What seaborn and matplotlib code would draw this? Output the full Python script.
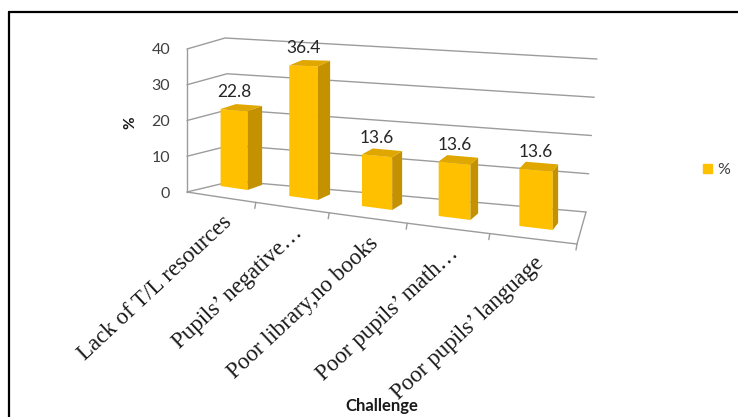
import numpy as np
import matplotlib
matplotlib.use("Agg")
import matplotlib.pyplot as plt
import matplotlib.patches as mpatches
from matplotlib.lines import Line2D
from matplotlib.transforms import Transform
import seaborn as sns

# ---- data -------------------------------------------------------------
categories = [
    "Lack of T/L resources",
    "Pupils\u2019 negative\u2026",
    "Poor library,no books",
    "Poor pupils\u2019 math\u2026",
    "Poor pupils\u2019 language",
]
percent = [22.8, 36.4, 13.6, 13.6, 13.6]
value_ticks = [0, 10, 20, 30, 40]
series_name = "%"
x_title = "Challenge"
y_title = "%"

# ---- canvas / styling ---------------------------------------------------
W, H, DPI = 738, 417, 100
BAR_FRONT = "#FFC000"
BAR_SIDE = "#C49200"
BAR_TOP = "#DFA700"
GRID = "#9C9C9C"
TEXT = "#404040"

sns.set_style("white")
plt.rcParams["font.family"] = ["Lato", "DejaVu Sans"]

# pixel layout of the pseudo-3D box (image pixels, y down)
AX_LEFT = 187          # front-left vertical axis
ZERO_Y = 192           # value 0 on the front-left axis
PX_PER_UNIT = 3.575    # pixels per percentage point on the front-left axis


def px_to_v(py):
    """Image row -> value units of the main axes."""
    return (ZERO_Y - np.asarray(py, float)) / PX_PER_UNIT


def bar_point(x, v, depth):
    """Perspective position of a point on a column (category x, value v, depth 0..1)."""
    x = np.asarray(x, float)
    v = np.asarray(v, float)
    px = 234 + 67.5 * x + 2.0 * x ** 2 + depth * (15 - 2.3 * x)
    py = 188 + 10 * x - v * (3.42 + 0.21 * x) - depth * (5 + 0.5 * x)
    return px, px_to_v(py)


def floor_front(u):
    """Point on the front edge of the floor, u = 0..n along the categories."""
    u = np.asarray(u, float)
    return 187 + 66.5 * u + 2.3 * u ** 2, -10.4 * u / PX_PER_UNIT


def back_left(v):
    return 233 - 0.2 * v, v + 11 / PX_PER_UNIT


def back_right(v):
    return 586 + 0.275 * v, px_to_v(212 - 3.825 * v)


class ColumnPlane(Transform):
    """Maps (category, value) on the column front faces into the perspective view."""
    input_dims = 2
    output_dims = 2
    is_separable = False
    has_inverse = False

    def __init__(self, face_depth=0.0):
        super().__init__()
        self._face_depth = face_depth

    def transform_non_affine(self, values):
        values = np.asarray(values, float)
        px, pv = bar_point(values[:, 0], values[:, 1], self._face_depth)
        return np.column_stack([px, pv])


fig = plt.figure(figsize=(W / DPI, H / DPI), dpi=DPI)
ax = fig.add_axes([AX_LEFT / W, 0.0, (W - AX_LEFT) / W, 1.0])

sns.barplot(x=categories, y=percent, color=BAR_FRONT, saturation=1,
            width=0.4, errorbar=None, linewidth=0, zorder=3, ax=ax)

ax.set_xlim(AX_LEFT, W)
ax.set_ylim(px_to_v(H), px_to_v(0))
ax.autoscale(False)
ax.set_xticks([])
ax.set_xlabel("")

# walls: gridlines on the left wall and back wall
for v in value_ticks:
    blx, blv = back_left(v)
    brx, brv = back_right(v)
    ax.plot([AX_LEFT, blx, brx], [v, blv, brv], color=GRID, lw=1.0,
            zorder=1, solid_capstyle="round", clip_on=False)

# floor outline and category ticks
n = len(categories)
us = np.linspace(0, n, 60)
fx, fv = floor_front(us)
ax.plot(fx, fv, color=GRID, lw=1.0, zorder=1, clip_on=False)
rx0, rv0 = floor_front(n)
brx0, brv0 = back_right(0)
ax.plot([rx0, brx0], [rv0, brv0], color=GRID, lw=1.0, zorder=1, clip_on=False)
for u in range(1, n + 1):
    tx, tv = floor_front(u)
    ax.plot([tx, tx - 1], [tv, tv - 6 / PX_PER_UNIT], color=GRID, lw=1.0,
            zorder=1, clip_on=False)

# columns: front faces from seaborn, plus side and top faces
for p, val in zip(ax.patches, percent):
    x0, w, h = p.get_x(), p.get_width(), p.get_height()
    p.set_transform(ColumnPlane(0.0) + ax.transData)
    p.set_clip_on(False)
    xr = x0 + w
    side = [bar_point(xr, 0, 0), bar_point(xr, h, 0),
            bar_point(xr, h, 1), bar_point(xr, 0, 1)]
    top = [bar_point(x0, h, 0), bar_point(xr, h, 0),
           bar_point(xr, h, 1), bar_point(x0, h, 1)]
    ax.add_patch(mpatches.Polygon([(float(a), float(b)) for a, b in side],
                                  closed=True, facecolor=BAR_SIDE, edgecolor="none",
                                  zorder=3, clip_on=False))
    ax.add_patch(mpatches.Polygon([(float(a), float(b)) for a, b in top],
                                  closed=True, facecolor=BAR_TOP, edgecolor="none",
                                  zorder=3, clip_on=False))
    lx, lv = bar_point(x0 + w / 2, val, 0)
    ax.annotate(f"{val:.1f}", (float(lx), float(lv)), xytext=(0, 13),
                textcoords="offset points", ha="center", va="center",
                fontsize=12.5, color="#262626", zorder=5)

# category labels under the floor
for i, name in enumerate(categories):
    cx, cv = floor_front(i + 0.5)
    ax.text(float(cx) + 8, float(cv) - 22 / PX_PER_UNIT, name, rotation=43,
            rotation_mode="anchor", ha="right", va="center",
            fontsize=16.5, color="#1a1a1a",
            family=["Liberation Serif", "DejaVu Serif"], clip_on=False)

# value axis
for s in ["top", "right", "bottom"]:
    ax.spines[s].set_visible(False)
ax.spines["left"].set_bounds(value_ticks[0], value_ticks[-1])
ax.spines["left"].set_color(GRID)
ax.spines["left"].set_linewidth(1.0)
ax.set_yticks(value_ticks)
ax.tick_params(axis="y", length=3.6, width=1.0, color=GRID, pad=8.5,
               labelsize=11.5, labelcolor=TEXT)
ax.set_ylabel(y_title, fontsize=11, fontweight="bold", color="#1a1a1a")
ax.yaxis.set_label_coords((137 - AX_LEFT) / (W - AX_LEFT), 1 - 123 / H)

fig.text(382 / W, 1 - 406 / H, x_title, ha="center", va="center",
         fontsize=12, fontweight="bold", color="#1a1a1a")

# legend
handle = mpatches.Patch(color=BAR_FRONT, label=series_name)
fig.legend(handles=[handle], loc="center left",
           bbox_to_anchor=(703 / W, 1 - 170 / H), frameon=False,
           fontsize=11.5, handlelength=0.55, handleheight=0.55,
           handletextpad=0.35, borderpad=0, borderaxespad=0,
           labelcolor=TEXT)

# outer frame
fig.add_artist(Line2D([9 / W, 9 / W], [0, 1 - 12 / H], transform=fig.transFigure,
                      color="black", lw=1.6))
fig.add_artist(Line2D([9 / W, 1], [1 - 12 / H, 1 - 12 / H], transform=fig.transFigure,
                      color="black", lw=1.6))

fig.savefig("out.png", dpi=DPI, facecolor="white")
